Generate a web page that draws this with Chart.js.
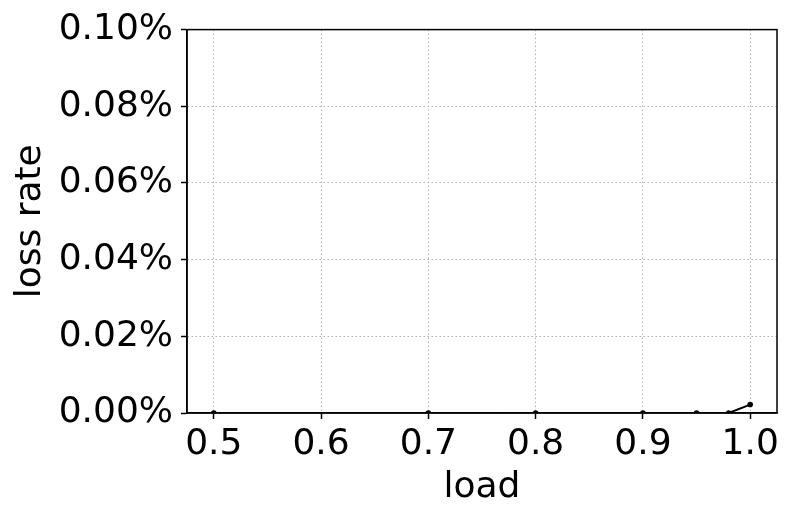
<!DOCTYPE html>
<html>
<head>
<meta charset="utf-8">
<script src="https://cdn.jsdelivr.net/npm/chart.js@4/dist/chart.umd.min.js"></script>
<style>
html,body{margin:0;padding:0;background:#fff;}
#wrap{width:792px;height:520px;}
</style>
</head>
<body>
<div id="wrap"><canvas id="c" width="792" height="520"></canvas></div>
<script>
// Data (loss rate in percent)
const loads = [0.5, 0.7, 0.8, 0.9, 0.95, 0.98, 1.0];
const lossRatePct = [0, 0, 0, 0, 0, 0, 0.0022];
const xTickValues = [0.5, 0.6, 0.7, 0.8, 0.9, 1.0];
const yTickValues = [0, 0.02, 0.04, 0.06, 0.08, 0.10];
const xTitle = 'load';
const yTitle = 'loss rate';

const FONT = 'DejaVu Sans';

const framePlugin = {
  id: 'frame',
  afterDraw(chart) {
    const {ctx, chartArea: a} = chart;
    ctx.save();
    ctx.strokeStyle = '#000';
    ctx.lineWidth = 1.5;
    ctx.strokeRect(a.left, a.top, a.right - a.left, a.bottom - a.top);
    ctx.restore();
  }
};

new Chart(document.getElementById('c'), {
  type: 'line',
  data: {
    datasets: [{
      data: loads.map((x, i) => ({x: x, y: lossRatePct[i]})),
      borderColor: '#000',
      backgroundColor: '#000',
      borderWidth: 2,
      pointRadius: 2.8,
      pointBackgroundColor: '#000',
      pointBorderColor: '#000',
      pointBorderWidth: 0,
      fill: false,
      tension: 0
    }]
  },
  options: {
    responsive: false,
    animation: false,
    devicePixelRatio: 1,
    layout: {padding: {top: 26, right: 15, left: 0, bottom: 0}},
    plugins: {legend: {display: false}, tooltip: {enabled: false}},
    scales: {
      x: {
        type: 'linear',
        min: 0.475,
        max: 1.025,
        afterBuildTicks: s => { s.ticks = xTickValues.map(v => ({value: v})); },
        afterFit: s => { s.height = 107; },
        ticks: {
          color: '#000',
          font: {family: FONT, size: 36},
          padding: 4,
          maxRotation: 0,
          autoSkip: false,
          callback: v => v.toFixed(1)
        },
        grid: {
          color: '#b0b0b0',
          lineWidth: 1,
          tickColor: '#000',
          tickLength: 6,
          tickWidth: 1.5,
          tickBorderDash: []
        },
        border: {display: true, color: '#000', width: 1.5, dash: [1.5, 2.5]},
        title: {
          display: true,
          text: xTitle,
          color: '#000',
          font: {family: FONT, size: 36},
          padding: {top: 0, bottom: 11}
        }
      },
      y: {
        type: 'linear',
        min: 0,
        max: 0.10,
        afterBuildTicks: s => { s.ticks = yTickValues.map(v => ({value: v})); },
        afterFit: s => { s.width = 187; },
        ticks: {
          color: '#000',
          font: {family: FONT, size: 36},
          padding: 8,
          callback: v => v.toFixed(2) + '%'
        },
        grid: {
          color: '#b0b0b0',
          lineWidth: 1,
          tickColor: '#000',
          tickLength: 6,
          tickWidth: 1.5,
          tickBorderDash: []
        },
        border: {display: true, color: '#000', width: 1.5, dash: [1.5, 2.5]},
        title: {
          display: true,
          text: yTitle,
          color: '#000',
          font: {family: FONT, size: 36},
          padding: {top: 9, bottom: 0}
        }
      }
    }
  },
  plugins: [framePlugin]
});
</script>
</body>
</html>
